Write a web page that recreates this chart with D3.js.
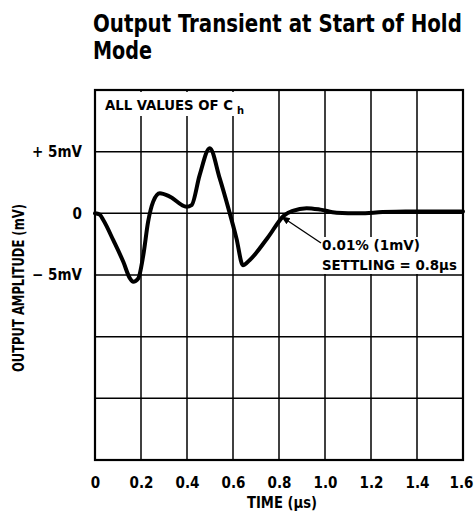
<!DOCTYPE html>
<html>
<head>
<meta charset="utf-8">
<script src="https://cdn.jsdelivr.net/npm/d3@7"></script>
<style>
  html, body { margin: 0; padding: 0; background: #fff; }
  text { font-family: "Liberation Sans Narrow", "DejaVu Sans Condensed", "Liberation Sans", Arial, sans-serif; font-weight: bold; font-stretch: condensed; fill: #000; }
</style>
</head>
<body>
<div id="viz"></div>
<script>
// time in microseconds, output in mV
const timeUs = [0, 0.02, 0.036, 0.08, 0.123, 0.152, 0.166, 0.188, 0.21, 0.231, 0.253, 0.282, 0.325, 0.398, 0.42, 0.455, 0.499, 0.542, 0.58, 0.615, 0.643, 0.672, 0.75, 0.824, 0.86, 0.92, 0.98, 1.05, 1.15, 1.25, 1.35, 1.6];
const outputMv = [0, -0.1, -0.54, -2.2, -3.93, -5.28, -5.55, -5.28, -3.39, -0.67, 0.95, 1.63, 1.36, 0.54, 0.67, 3.1, 5.28, 2.85, 0.4, -2.03, -4.2, -3.8, -2.0, -0.14, 0.2, 0.42, 0.3, 0.05, 0.0, 0.1, 0.15, 0.15];

const xTicks = [0, 0.2, 0.4, 0.6, 0.8, 1.0, 1.2, 1.4, 1.6];
const xTickLabels = ["0", "0.2", "0.4", "0.6", "0.8", "1.0", "1.2", "1.4", "1.6"];
const yGrid = [10, 5, 0, -5, -10, -15, -20];
const yTicks = [5, 0, -5];
const yTickLabels = ["+ 5mV", "0", "\u2212 5mV"];

const svg = d3.select("#viz").append("svg")
  .attr("width", 474)
  .attr("height", 512);

const x = d3.scaleLinear().domain([0, 1.6]).range([95, 463]);
const y = d3.scaleLinear().domain([-20, 10]).range([460, 90]);

// squeeze a text horizontally to a given width (condensed look)
function fitText(sel, px, py, width, rotate) {
  sel.attr("x", 0).attr("y", 0);
  const w = sel.node().getComputedTextLength();
  const sx = width / w;
  const anchor = sel.attr("text-anchor");
  sel.attr("transform", `translate(${px},${py})` + (rotate ? ` rotate(${rotate})` : "") + ` scale(${sx},1)`);
  return sel;
}

// title
fitText(svg.append("text").style("font-size", "24px")
  .text("Output Transient at Start of Hold"), 93, 32, 369);
fitText(svg.append("text").style("font-size", "24px")
  .text("Mode"), 93, 59, 59);

// grid
const grid = svg.append("g");
grid.selectAll("line.v")
  .data(xTicks.slice(1, -1))
  .enter().append("line")
  .attr("x1", d => x(d)).attr("x2", d => x(d))
  .attr("y1", y(10)).attr("y2", y(-20))
  .attr("stroke", "#000").attr("stroke-width", 1.5);
grid.selectAll("line.h")
  .data(yGrid.slice(1, -1))
  .enter().append("line")
  .attr("x1", x(0)).attr("x2", x(1.6))
  .attr("y1", d => y(d)).attr("y2", d => y(d))
  .attr("stroke", "#000").attr("stroke-width", 1.5);

// white label patches over the grid
svg.append("rect").attr("x", 97).attr("y", 92).attr("width", 150).attr("height", 24).attr("fill", "#fff");
svg.append("rect").attr("x", 318).attr("y", 237).attr("width", 143).attr("height", 37).attr("fill", "#fff");

svg.append("rect")
  .attr("x", x(0)).attr("y", y(10))
  .attr("width", x(1.6) - x(0)).attr("height", y(-20) - y(10))
  .attr("fill", "none").attr("stroke", "#000").attr("stroke-width", 2.2);

// trace
const line = d3.line()
  .x((d, i) => x(timeUs[i]))
  .y(d => y(d))
  .curve(d3.curveMonotoneX);
svg.append("path")
  .datum(outputMv)
  .attr("d", line)
  .attr("fill", "none")
  .attr("stroke", "#000")
  .attr("stroke-width", 4)
  .attr("stroke-linejoin", "round")
  .attr("stroke-linecap", "round");

// axes
const xAxis = svg.append("g")
  .attr("transform", `translate(0,${y(-20)})`)
  .call(d3.axisBottom(x).tickValues(xTicks).tickSize(0).tickPadding(17)
    .tickFormat((d, i) => xTickLabels[i]));
xAxis.select(".domain").remove();
xAxis.selectAll("text").style("font-size", "15px").attr("fill", "#000");
xAxis.selectAll(".tick").filter(d => d === 1.6).select("text").attr("dx", "-2");

const yAxis = svg.append("g")
  .attr("transform", `translate(82,0)`)
  .call(d3.axisLeft(y).tickValues(yTicks).tickSize(0).tickPadding(0)
    .tickFormat((d, i) => yTickLabels[i]));
yAxis.select(".domain").remove();
yAxis.selectAll("text").style("font-size", "15px").attr("fill", "#000");

fitText(svg.append("text").style("font-size", "15px")
  .text("TIME (\u03bcs)"), 247, 508, 70);

fitText(svg.append("text").style("font-size", "15px")
  .text("OUTPUT AMPLITUDE (mV)"), 24, 372, 168, -90);

// in-plot labels
fitText(svg.append("text").style("font-size", "14px")
  .text("ALL VALUES OF C"), 105, 110, 128);
svg.append("text").attr("x", 237).attr("y", 114)
  .style("font-size", "11px")
  .text("h");

svg.append("defs").append("marker")
  .attr("id", "arrow")
  .attr("viewBox", "0 0 10 10")
  .attr("refX", 10).attr("refY", 5)
  .attr("markerWidth", 9).attr("markerHeight", 9)
  .attr("markerUnits", "userSpaceOnUse")
  .attr("orient", "auto")
  .append("path").attr("d", "M0,1 L10,5 L0,9 Z").attr("fill", "#000");

svg.append("line")
  .attr("x1", 321).attr("y1", 243)
  .attr("x2", x(0.8) + 2).attr("y2", y(0) + 3)
  .attr("stroke", "#000").attr("stroke-width", 1.3)
  .attr("marker-end", "url(#arrow)");

fitText(svg.append("text").style("font-size", "14px")
  .text("0.01% (1mV)"), 322, 250, 98);
fitText(svg.append("text").style("font-size", "14px")
  .text("SETTLING = 0.8\u03bcs"), 322, 270, 135);
</script>
</body>
</html>
